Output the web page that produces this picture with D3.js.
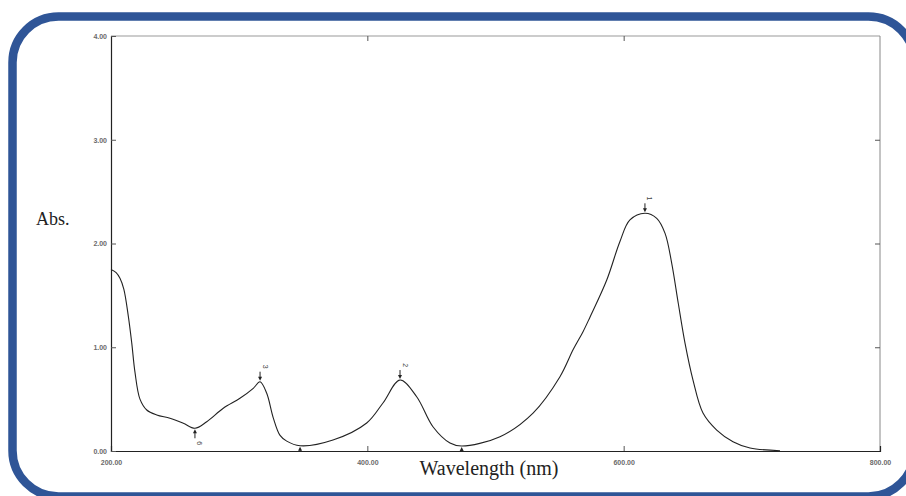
<!DOCTYPE html>
<html>
<head>
<meta charset="utf-8">
<script src="https://cdn.jsdelivr.net/npm/d3@7"></script>
<style>
  body { margin: 0; background: #fff; }
  svg { display: block; }
</style>
</head>
<body>
<div id="chart"></div>
<script>
// Spectrum: wavelength (nm) and absorbance
const wavelength = [200, 204, 207, 210, 213.5, 216.2, 218.7, 222.6, 227.9, 235.7, 246, 256.4, 265.5,
  274.7, 287.6, 300.6, 311, 316.3, 321.5, 326.6, 331.9, 337.1, 347.5, 373.2, 399.5, 412.2,
  425.5, 438.5, 451.2, 464.5, 473.6, 503.5, 529.3, 550.3, 560.7, 568.3, 573.7, 586.8, 597.1,
  604.9, 616.6, 625.8, 632.3, 637.5, 642.6, 647.9, 654.1, 661.9, 672.6, 685.3, 698.6, 722];
const absorbance = [1.75, 1.72, 1.665, 1.56, 1.3, 1.04, 0.76, 0.5, 0.395, 0.347, 0.315, 0.267, 0.219,
  0.282, 0.412, 0.508, 0.604, 0.668, 0.556, 0.32, 0.15, 0.095, 0.051, 0.106, 0.27, 0.463,
  0.684, 0.523, 0.234, 0.077, 0.048, 0.138, 0.366, 0.716, 0.98, 1.15, 1.29, 1.648, 2.02,
  2.227, 2.291, 2.243, 2.098, 1.809, 1.424, 1.038, 0.684, 0.366, 0.202, 0.09, 0.029, 0.003];

// Peak / valley picks
const pickNm = [616.6, 425.5, 316.3, 347.5, 473.6, 265.5];
const pickLabel = ['1', '2', '3', '', '', '6'];
const pickType = ['max', 'max', 'max', 'min', 'min', 'min'];

const xTicks = [200, 400, 600, 800];
const yTicks = [0, 1, 2, 3, 4];

const W = 906, H = 496;
const margin = { top: 36, right: 26, bottom: 45, left: 111 };
const width = W - margin.left - margin.right;
const height = H - margin.top - margin.bottom;

const svg = d3.select('#chart').append('svg')
  .attr('width', W)
  .attr('height', H);

// blue rounded frame
svg.append('rect')
  .attr('x', 12.5)
  .attr('y', 16.5)
  .attr('width', 902)
  .attr('height', 480)
  .attr('rx', 46)
  .attr('fill', 'none')
  .attr('stroke', '#2F5597')
  .attr('stroke-width', 8.5);

const g = svg.append('g')
  .attr('transform', `translate(${margin.left},${margin.top})`);

const x = d3.scaleLinear().domain([200, 800]).range([0, width]);
const y = d3.scaleLinear().domain([0, 4]).range([height, 0]);

const fmt = d3.format('.2f');
const tickFont = 'Liberation Sans, Arial, sans-serif';

// frame lines (top/right grey)
g.append('line').attr('x1', 0).attr('x2', width).attr('y1', 0).attr('y2', 0)
  .attr('stroke', '#999').attr('stroke-width', 1);
g.append('line').attr('x1', width).attr('x2', width).attr('y1', 0).attr('y2', height)
  .attr('stroke', '#888').attr('stroke-width', 1);

// axes with inward ticks
const xAxis = g.append('g')
  .attr('transform', `translate(0,${height})`)
  .call(d3.axisBottom(x).tickValues(xTicks).tickSize(-5).tickPadding(9).tickFormat(fmt));
const yAxis = g.append('g')
  .call(d3.axisLeft(y).tickValues(yTicks).tickSize(-5).tickPadding(4).tickFormat(fmt));

[xAxis, yAxis].forEach(a => {
  a.attr('color', '#666');
  a.select('.domain').attr('stroke', '#222').attr('stroke-width', 1.2);
  a.selectAll('.tick line').attr('stroke', '#555');
  a.selectAll('.tick text')
    .attr('fill', '#6a6a6a')
    .style('font-family', tickFont)
    .style('font-size', '7px')
    .style('font-weight', 'bold');
});
xAxis.selectAll('.tick').filter(d => d === 200 || d === 800).select('line').remove();

// top and right inward ticks
g.append('g').call(d3.axisTop(x).tickValues([400, 600]).tickSize(-5).tickFormat(''))
  .call(a => a.select('.domain').remove())
  .selectAll('line').attr('stroke', '#555');
g.append('g').attr('transform', `translate(${width},0)`)
  .call(d3.axisRight(y).tickValues([1, 2, 3]).tickSize(-5).tickFormat(''))
  .call(a => a.select('.domain').remove())
  .selectAll('line').attr('stroke', '#555');

// spectrum
const pts = wavelength.map((w, i) => ({ w, a: absorbance[i] }));
g.append('path')
  .datum(pts)
  .attr('fill', 'none')
  .attr('stroke', '#222')
  .attr('stroke-width', 1.1)
  .attr('d', d3.line().x(d => x(d.w)).y(d => y(d.a)).curve(d3.curveCatmullRom.alpha(0.5)));

// pick markers
pickNm.forEach((nm, i) => {
  const a = absorbance[wavelength.indexOf(nm)];
  const px = x(nm), py = y(a);
  const m = g.append('g');
  if (pickType[i] === 'max') {
    m.append('line').attr('x1', px).attr('x2', px).attr('y1', py - 10).attr('y2', py - 3)
      .attr('stroke', '#222').attr('stroke-width', 1);
    m.append('path').attr('d', `M${px - 2},${py - 5}L${px + 2},${py - 5}L${px},${py - 1}Z`).attr('fill', '#222');
    m.append('text')
      .attr('transform', `translate(${px + 2.5},${py - 13}) rotate(90)`)
      .attr('text-anchor', 'end')
      .style('font-family', tickFont)
      .style('font-size', '7px')
      .attr('fill', '#444')
      .text(pickLabel[i]);
  } else {
    const bottom = pickLabel[i] ? py + 10 : height;
    m.append('line').attr('x1', px).attr('x2', px).attr('y1', bottom).attr('y2', py + 3)
      .attr('stroke', '#222').attr('stroke-width', 1);
    m.append('path').attr('d', `M${px - 2},${py + 5}L${px + 2},${py + 5}L${px},${py + 1}Z`).attr('fill', '#222');
    if (pickLabel[i]) {
      m.append('text')
        .attr('transform', `translate(${px + 2.5},${py + 13}) rotate(90)`)
        .style('font-family', tickFont)
        .style('font-size', '7px')
        .attr('fill', '#444')
        .text(pickLabel[i]);
    }
  }
});

// axis titles
svg.append('text')
  .attr('x', 36)
  .attr('y', 225)
  .style('font-family', 'Liberation Serif, Times New Roman, serif')
  .style('font-size', '18px')
  .attr('fill', '#222')
  .text('Abs.');

svg.append('text')
  .attr('x', 489)
  .attr('y', 475)
  .attr('text-anchor', 'middle')
  .style('font-family', 'Liberation Serif, Times New Roman, serif')
  .style('font-size', '20px')
  .attr('fill', '#222')
  .text('Wavelength (nm)');
</script>
</body>
</html>
